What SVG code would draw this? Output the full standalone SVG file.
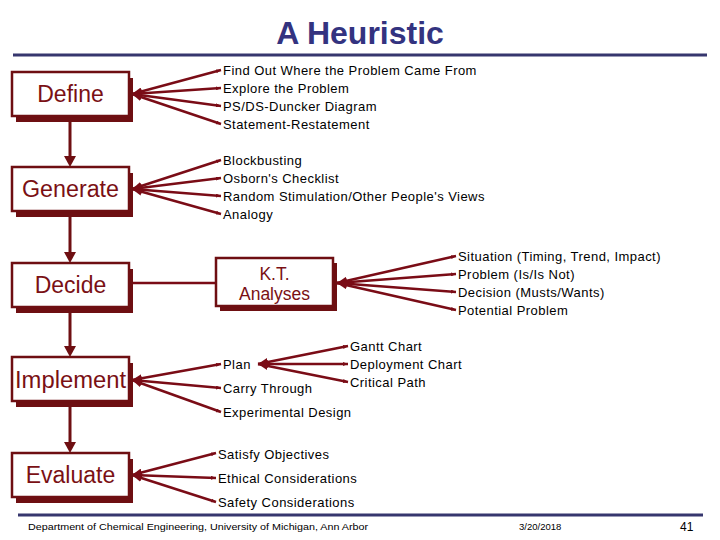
<svg xmlns="http://www.w3.org/2000/svg" width="720" height="540" viewBox="0 0 720 540">
<style>
.box{fill:#ffffff;stroke:#6e0f12;stroke-width:2.5}
.shadow{fill:#6e0f12}
.lbl{font-family:"Liberation Sans",Arial,sans-serif;font-size:23px;fill:#7a1014;text-anchor:middle}
.kt{font-family:"Liberation Sans",Arial,sans-serif;font-size:17.5px;fill:#7a1014;text-anchor:middle}
.item{font-family:"Liberation Sans",Arial,sans-serif;font-size:13px;letter-spacing:0.45px;fill:#000000}
.fan{stroke:#7a0c16;stroke-width:2.4;fill:none;marker-start:url(#src);marker-end:url(#tip)}
.plain{stroke:#7a0c16;stroke-width:2.4;fill:none}
.flow{stroke:#6e0f12;stroke-width:3;fill:none}
.head{fill:#6e0f12}
.rule{stroke:#36366e;stroke-width:3}
.foot{font-family:"Liberation Sans",Arial,sans-serif;font-size:9.5px;fill:#000000}
</style>
<defs>
<marker id="src" markerUnits="userSpaceOnUse" markerWidth="10" markerHeight="8" refX="10" refY="4" orient="auto-start-reverse" viewBox="0 0 10 8"><path d="M0,0 L10,4 L0,8 z" fill="#7a0c16"/></marker>
<marker id="tip" markerUnits="userSpaceOnUse" markerWidth="5" markerHeight="4" refX="5" refY="2" orient="auto" viewBox="0 0 5 4"><path d="M0,0 L5,2 L0,4 z" fill="#7a0c16"/></marker>
<path id="downhead" class="head" d="M-6,-11 L6,-11 L0,0 z"/>
</defs>

<g id="title">
<text x="360" y="44" font-family="Liberation Sans,Arial,sans-serif" font-size="32" font-weight="bold" fill="#333380" text-anchor="middle">A Heuristic</text>
<line class="rule" x1="13" y1="55" x2="707" y2="55"/>
</g>

<g id="connectors">
<line class="flow" x1="70" y1="122" x2="70" y2="158"/>
<use href="#downhead" x="70" y="167"/>
<line class="flow" x1="70" y1="217" x2="70" y2="254"/>
<use href="#downhead" x="70" y="263"/>
<line class="flow" x1="70" y1="313" x2="70" y2="348"/>
<use href="#downhead" x="70" y="357"/>
<line class="flow" x1="70" y1="407" x2="70" y2="444"/>
<use href="#downhead" x="70" y="453"/>
<line class="fan" x1="132" y1="94" x2="221" y2="70"/>
<line class="fan" x1="132" y1="94" x2="221" y2="88"/>
<line class="fan" x1="132" y1="94" x2="221" y2="106"/>
<line class="fan" x1="132" y1="94" x2="221" y2="124"/>
<line class="fan" x1="132" y1="189" x2="221" y2="160"/>
<line class="fan" x1="132" y1="189" x2="221" y2="178"/>
<line class="fan" x1="132" y1="189" x2="221" y2="196"/>
<line class="fan" x1="132" y1="189" x2="221" y2="214"/>
<line class="plain" x1="131" y1="283" x2="216" y2="283"/>
<line class="fan" x1="337" y1="283" x2="456" y2="256"/>
<line class="fan" x1="337" y1="283" x2="456" y2="274"/>
<line class="fan" x1="337" y1="283" x2="456" y2="292"/>
<line class="fan" x1="337" y1="283" x2="456" y2="310"/>
<line class="fan" x1="132" y1="380" x2="221" y2="364"/>
<line class="fan" x1="132" y1="380" x2="221" y2="388"/>
<line class="fan" x1="132" y1="380" x2="221" y2="412"/>
<line class="fan" x1="258" y1="364" x2="348" y2="346"/>
<line class="fan" x1="258" y1="364" x2="348" y2="364"/>
<line class="fan" x1="258" y1="364" x2="348" y2="382"/>
<line class="fan" x1="132" y1="475" x2="216" y2="453"/>
<line class="fan" x1="132" y1="475" x2="216" y2="478"/>
<line class="fan" x1="132" y1="475" x2="216" y2="502"/>
</g>

<g id="define">
<rect class="shadow" x="16" y="78" width="117" height="44"/>
<rect class="box" x="12" y="72" width="117" height="44"/>
<text class="lbl" x="70.5" y="102">Define</text>
</g>
<g id="generate">
<rect class="shadow" x="16" y="173" width="117" height="44"/>
<rect class="box" x="12" y="167" width="117" height="44"/>
<text class="lbl" x="70.5" y="197" textLength="97" lengthAdjust="spacingAndGlyphs">Generate</text>
</g>
<g id="decide">
<rect class="shadow" x="16" y="269" width="117" height="44"/>
<rect class="box" x="12" y="263" width="117" height="44"/>
<text class="lbl" x="70.5" y="293">Decide</text>
</g>
<g id="implement">
<rect class="shadow" x="16" y="363" width="117" height="44"/>
<rect class="box" x="12" y="357" width="117" height="44"/>
<text class="lbl" x="70.5" y="388" textLength="111" lengthAdjust="spacingAndGlyphs">Implement</text>
</g>
<g id="evaluate">
<rect class="shadow" x="16" y="459" width="117" height="44"/>
<rect class="box" x="12" y="453" width="117" height="44"/>
<text class="lbl" x="70.5" y="483">Evaluate</text>
</g>
<g id="kt">
<rect class="shadow" x="220" y="263" width="117" height="48"/>
<rect class="box" x="216" y="258" width="117" height="48"/>
<text class="kt" x="274.5" y="280">K.T.</text>
<text class="kt" x="274.5" y="300">Analyses</text>
</g>

<g id="define-items">
<text class="item" x="223" y="74.5">Find Out Where the Problem Came From</text>
<text class="item" x="223" y="92.5">Explore the Problem</text>
<text class="item" x="223" y="110.5">PS/DS-Duncker Diagram</text>
<text class="item" x="223" y="128.5">Statement-Restatement</text>
</g>
<g id="generate-items">
<text class="item" x="223" y="164.5">Blockbusting</text>
<text class="item" x="223" y="182.5">Osborn's Checklist</text>
<text class="item" x="223" y="200.5">Random Stimulation/Other People's Views</text>
<text class="item" x="223" y="218.5">Analogy</text>
</g>
<g id="kt-items">
<text class="item" x="458" y="260.5">Situation (Timing, Trend, Impact)</text>
<text class="item" x="458" y="278.5">Problem (Is/Is Not)</text>
<text class="item" x="458" y="296.5">Decision (Musts/Wants)</text>
<text class="item" x="458" y="314.5">Potential Problem</text>
</g>
<g id="implement-items">
<text class="item" x="223" y="368.5">Plan</text>
<text class="item" x="223" y="392.5">Carry Through</text>
<text class="item" x="223" y="416.5">Experimental Design</text>
</g>
<g id="plan-items">
<text class="item" x="350" y="350.5">Gantt Chart</text>
<text class="item" x="350" y="368.5">Deployment Chart</text>
<text class="item" x="350" y="386.5">Critical Path</text>
</g>
<g id="evaluate-items">
<text class="item" x="218" y="458.5">Satisfy Objectives</text>
<text class="item" x="218" y="482.5">Ethical Considerations</text>
<text class="item" x="218" y="506.5">Safety Considerations</text>
</g>

<g id="footer">
<line class="rule" x1="18" y1="515" x2="703" y2="515"/>
<text class="foot" x="28" y="530" textLength="340" lengthAdjust="spacingAndGlyphs">Department of Chemical Engineering, University of Michigan, Ann Arbor</text>
<text class="foot" x="519" y="530">3/20/2018</text>
<text x="680" y="531" font-family="Liberation Sans,Arial,sans-serif" font-size="12" fill="#000000">41</text>
</g>
</svg>
